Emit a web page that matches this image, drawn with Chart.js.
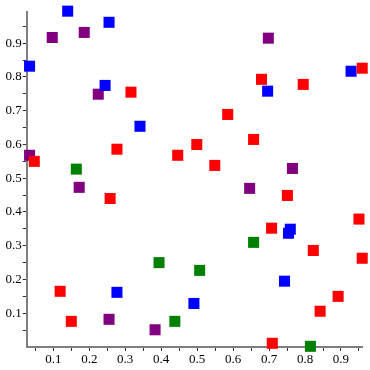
<!DOCTYPE html>
<html>
<head>
<meta charset="utf-8">
<script src="https://cdn.jsdelivr.net/npm/chart.js@4"></script>
<style>
  html, body { margin: 0; padding: 0; background: #fff; }
  #wrap { width: 370px; height: 370px; }
</style>
</head>
<body>
<div id="wrap"><canvas id="chart"></canvas></div>
<script>
// point values, one pair of arrays per colour
const redX = [0.316, 0.277, 0.446, 0.047, 0.959, 0.679, 0.795, 0.585, 0.657, 0.499, 0.549,
  0.258, 0.119, 0.150, 0.751, 0.950, 0.707, 0.823, 0.959, 0.892, 0.842, 0.709];
const redY = [0.755, 0.586, 0.568, 0.550, 0.826, 0.793, 0.778, 0.689, 0.615, 0.600, 0.538,
  0.440, 0.165, 0.076, 0.449, 0.379, 0.352, 0.286, 0.263, 0.150, 0.106, 0.011];

const blueX = [0.140, 0.255, 0.034, 0.244, 0.341, 0.928, 0.696, 0.277, 0.754, 0.759, 0.743, 0.491];
const blueY = [0.995, 0.962, 0.832, 0.775, 0.654, 0.817, 0.758, 0.162, 0.337, 0.349, 0.195, 0.129];

const purpleX = [0.097, 0.186, 0.225, 0.034, 0.172, 0.698, 0.765, 0.646, 0.255, 0.383];
const purpleY = [0.917, 0.932, 0.749, 0.568, 0.473, 0.915, 0.529, 0.470, 0.082, 0.051];

const greenX = [0.164, 0.394, 0.438, 0.657, 0.507, 0.815];
const greenY = [0.527, 0.250, 0.076, 0.310, 0.227, 0.002];

const xRange = [0.026, 0.959];
const yRange = [0, 0.994];
const tickStep = 0.05;

function toPoints(xs, ys) {
  return xs.map((x, i) => ({ x: x, y: ys[i] }));
}

function makeSet(xs, ys, color) {
  return {
    data: toPoints(xs, ys),
    backgroundColor: color,
    borderWidth: 0,
    pointStyle: "rect",
    pointRadius: 7.8,
    pointHoverRadius: 7.8,
    clip: false,
  };
}

// labels only on the tenths, short marks on the twentieths
function tickLabel(value) {
  const n = Math.round(value * 100);
  if (n === 0) return null;
  return n % 10 === 0 ? (n / 100).toFixed(1) : "";
}

const axisColor = "#7f7f7f";
const tickFont = { family: "Liberation Serif", size: 13 };

function axis(range, fitSize, isX) {
  return {
    type: "linear",
    min: range[0],
    max: range[1],
    border: { display: true, color: axisColor, width: 2 },
    grid: {
      drawOnChartArea: false,
      drawTicks: true,
      tickLength: 4,
      tickColor: "#333",
      tickWidth: 1,
    },
    ticks: {
      stepSize: tickStep,
      includeBounds: false,
      autoSkip: false,
      maxRotation: 0,
      color: "#000",
      padding: isX ? 1 : 1,
      font: tickFont,
      callback: tickLabel,
    },
    afterFit: (scale) => {
      if (isX) scale.height = fitSize;
      else scale.width = fitSize;
    },
  };
}

const ctx = document.getElementById("chart").getContext("2d");
new Chart(ctx, {
  type: "scatter",
  data: {
    datasets: [
      makeSet(redX, redY, "#ff0000"),
      makeSet(blueX, blueY, "#0000ff"),
      makeSet(purpleX, purpleY, "#800080"),
      makeSet(greenX, greenY, "#008000"),
    ],
  },
  options: {
    responsive: true,
    maintainAspectRatio: false,
    animation: false,
    layout: { padding: { top: 11.5, right: 6.5, left: 0, bottom: 0 } },
    plugins: {
      legend: { display: false },
      tooltip: { enabled: false },
    },
    scales: {
      x: axis(xRange, 23, true),
      y: axis(yRange, 26.7, false),
    },
  },
});
</script>
</body>
</html>
